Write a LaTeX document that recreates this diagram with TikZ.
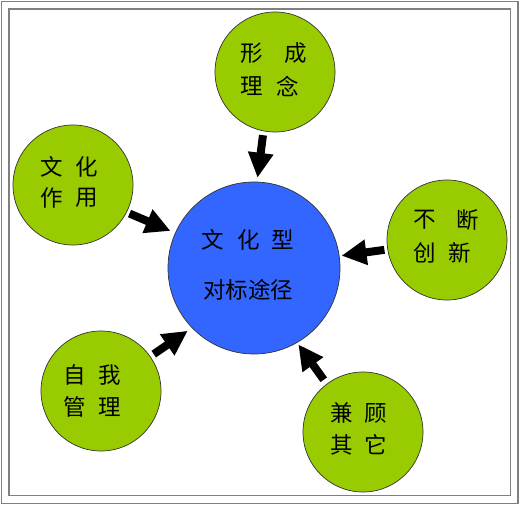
\documentclass[tikz,border=0pt]{standalone}
\usepackage{fontspec}
\setmainfont{Noto Sans CJK SC}
\usetikzlibrary{arrows.meta}
\definecolor{leaf}{RGB}{153,204,0}
\definecolor{core}{RGB}{51,102,255}
\definecolor{frame}{RGB}{128,128,128}
\tikzset{
  green ball/.style={circle, draw=black!80, line width=0.7pt, fill=leaf, minimum size=120pt, inner sep=0pt},
  blue ball/.style={circle, draw=black!80, line width=0.7pt, fill=core, minimum size=172pt, inner sep=0pt},
  ch/.style={inner sep=0pt, font=\fontsize{22.5}{22.5}\selectfont, text=black},
  fat arrow/.style={line width=8pt, -{Triangle[width=24pt,length=25pt]}, black},
  frame line/.style={draw=frame, line width=1.1pt}
}
\begin{document}
\begin{tikzpicture}[x=1pt,y=-1pt]
\useasboundingbox (0,0) rectangle (520,505);
\draw[frame line] (1.5,1.5) rectangle (518,503.5);
\draw[frame line] (9,9) rectangle (510.5,495.5);
% circles
\node[blue ball]  (c)  at (254,268) {};
\node[green ball] (t)  at (275,72)  {};
\node[green ball] (l1) at (73,185)  {};
\node[green ball] (r1) at (447,240) {};
\node[green ball] (l2) at (101,391) {};
\node[green ball] (r2) at (363,432) {};
% characters
\foreach \x/\y/\c [count=\i] in {
  252/53/形, 296/53/成, 252/86/理, 288/86/念,
  52/167/文, 87/167/化, 52/198/作, 87/198/用,
  425/220/不, 468/220/断, 425/253/创, 460/253/新,
  75/375/自, 110/375/我, 75/407/管, 110/407/理,
  342/413/兼, 376/413/顾, 342/445/其, 376/445/它,
  213/240/文, 249/240/化, 283/240/型,
  214.5/290/对, 237/290/标, 259.5/290/途, 282/290/径}
  \node[ch] (ch\i) at (\x,\y) {\c};
% arrows
\draw[fat arrow, shorten <=4pt, shorten >=4pt] (t.-101.7) -- (c.88);
\draw[fat arrow, shorten <=3pt, shorten >=5pt] (l1.-27.6) -- (c.156.2);
\draw[fat arrow, shorten <=3pt, shorten >=2pt] (r1.189.2) -- (c.8.5);
\draw[fat arrow, shorten <=4pt, shorten >=5pt] (l2.35.4) -- (c.224.1);
\draw[fat arrow, shorten <=5pt, shorten >=2pt] (r2.127.6) -- (c.-60.8);
\end{tikzpicture}
\end{document}
